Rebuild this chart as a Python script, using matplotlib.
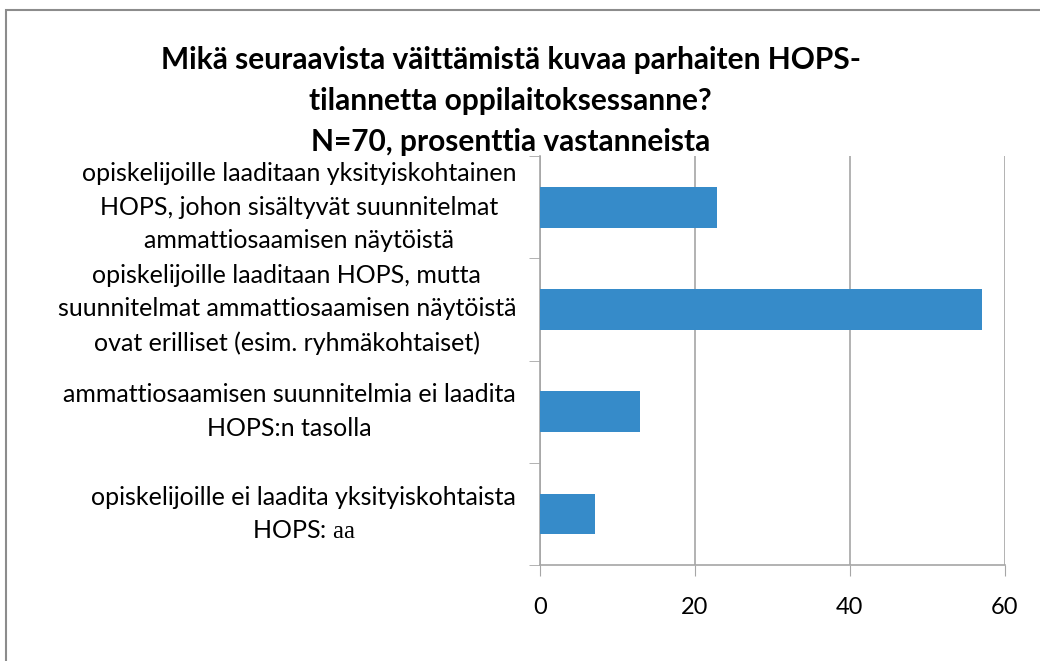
import numpy as np
import matplotlib.pyplot as plt
from matplotlib.patches import Rectangle

# --- data (percent of respondents, N=70) ---
categories = [
    "opiskelijoille laaditaan yksityiskohtainen\nHOPS, johon sisältyvät suunnitelmat\nammattiosaamisen näytöistä",
    "opiskelijoille laaditaan HOPS, mutta\nsuunnitelmat ammattiosaamisen näytöistä\novat erilliset (esim. ryhmäkohtaiset)",
    "ammattiosaamisen suunnitelmia ei laadita\nHOPS:n tasolla",
    "opiskelijoille ei laadita yksityiskohtaista\nHOPS: $\\mathrm{aa}$",
]
values = [22.9, 57.1, 12.9, 7.1]
xticks = [0, 20, 40, 60]
title = "Mikä seuraavista väittämistä kuvaa parhaiten HOPS-\ntilannetta oppilaitoksessanne?\nN=70, prosenttia vastanneista"

plt.rcParams['font.family'] = ['Lato', 'DejaVu Sans']
plt.rcParams['mathtext.fontset'] = 'custom'
plt.rcParams['mathtext.rm'] = 'Liberation Serif'
bar_color = '#368BC9'
grid_color = '#A6A6A6'

fig = plt.figure(figsize=(10.4, 6.61), dpi=100)
ax = fig.add_axes([0.519, 0.145, 0.447, 0.619])

# outer chart border
fig.patches.append(Rectangle((6 / 1040, -0.1), 1.1, 1 - 10 / 661 + 0.1,
                             transform=fig.transFigure, fill=False,
                             edgecolor='#8C8C8C', linewidth=1.5))

y = np.arange(len(categories))
ax.barh(y, values, height=0.4, color=bar_color, zorder=3)
ax.set_ylim(len(categories) - 0.5, -0.5)
ax.set_xlim(0, 60)

ax.set_xticks(xticks)
ax.set_xticklabels([str(t) for t in xticks], fontsize=17)
ax.tick_params(axis='x', direction='out', length=8, color=grid_color, pad=15)

ax.set_yticks(y)
ax.set_yticklabels(categories, fontsize=18, ha='right', va='center',
                   multialignment='center', linespacing=1.55)
ax.set_yticks(np.arange(len(categories) + 1) - 0.5, minor=True)
ax.tick_params(axis='y', which='major', length=0, pad=17)
ax.tick_params(axis='y', which='minor', length=8, color=grid_color)

ax.xaxis.grid(True, color=grid_color, linewidth=1.2, zorder=0)
for s in ['top', 'right']:
    ax.spines[s].set_visible(False)
for s in ['left', 'bottom']:
    ax.spines[s].set_color(grid_color)
    ax.spines[s].set_linewidth(1.2)

fig.text(0.491, 0.93, title, ha='center', va='top', fontsize=21.5,
         fontweight='bold', linespacing=1.55)

fig.savefig('out.png', dpi=100)
